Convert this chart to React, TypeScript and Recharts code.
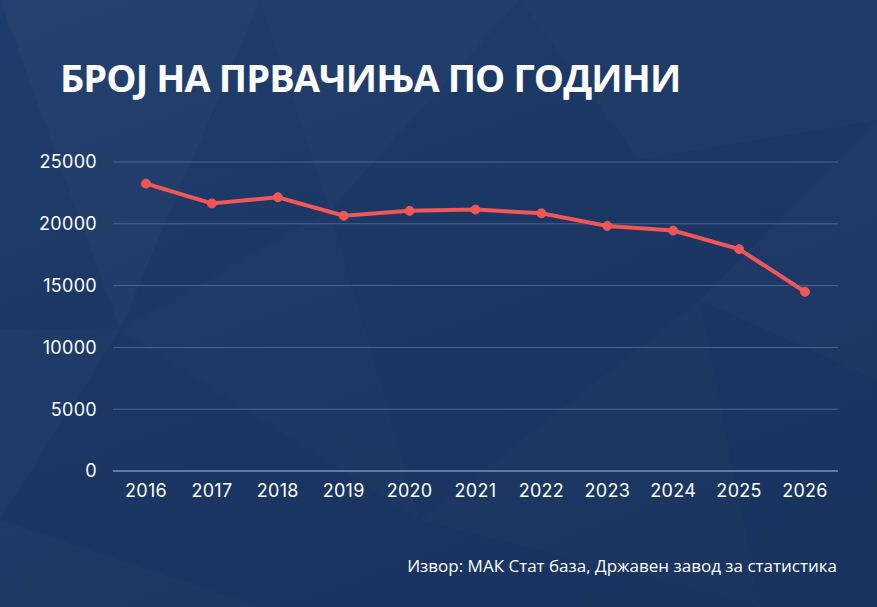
import React from "react";
import { LineChart, Line, XAxis, YAxis, CartesianGrid } from "recharts";

const years = ["2016", "2017", "2018", "2019", "2020", "2021", "2022", "2023", "2024", "2025", "2026"];
const firstGraders = [23250, 21650, 22150, 20650, 21050, 21150, 20850, 19830, 19450, 17950, 14500];
const yTicks = [0, 5000, 10000, 15000, 20000, 25000];

const data = years.map((year, i) => ({ year, value: firstGraders[i] }));

const W = 877;
const H = 607;

// decorative facets in the background
const facets = [
  "0,0 260,0 120,330",
  "260,0 520,0 330,210",
  "0,330 120,330 0,520",
  "520,0 877,0 877,120 640,160",
  "877,120 877,380 700,300",
  "120,330 330,210 420,520",
  "0,520 260,607 0,607",
  "420,520 700,300 760,607",
];
const facetOpacity = [0.025, 0.018, 0.015, 0.015, 0.02, 0.012, 0.015, 0.01];

const tickStyle = { fill: "#ffffff", fontSize: 18, fontFamily: "Inter, sans-serif", letterSpacing: 0.3 };

export default function App() {
  return (
    <div
      style={{
        position: "absolute",
        left: 0,
        top: 0,
        width: W,
        height: H,
        overflow: "hidden",
        background: "linear-gradient(160deg, #1f3d6c 0%, #1b3764 45%, #19335f 100%)",
      }}
    >
      <svg width={W} height={H} style={{ position: "absolute", left: 0, top: 0 }}>
        {facets.map((p, i) => (
          <polygon key={i} points={p} fill="#ffffff" fillOpacity={facetOpacity[i]} />
        ))}
      </svg>

      <div
        style={{
          position: "absolute",
          left: 60,
          top: 52,
          color: "#ffffff",
          fontFamily: "'Open Sans', sans-serif",
          fontWeight: 700,
          fontSize: 38,
          letterSpacing: -0.9,
          lineHeight: "50px",
          whiteSpace: "nowrap",
        }}
      >
        БРОЈ НА ПРВАЧИЊА ПО ГОДИНИ
      </div>

      <div style={{ position: "absolute", left: 0, top: 0 }}>
        <LineChart
          width={W}
          height={H}
          data={data}
          margin={{ top: 162, right: 39, bottom: 106, left: 0 }}
        >
          <CartesianGrid vertical={false} stroke="#4a6691" strokeWidth={1} />
          <XAxis
            dataKey="year"
            height={30}
            padding={{ left: 33, right: 33 }}
            axisLine={{ stroke: "#7389b0", strokeWidth: 1.5 }}
            tickLine={false}
            tickSize={6}
            tickMargin={7}
            tick={tickStyle}
            interval={0}
          />
          <YAxis
            width={113}
            domain={[0, 25000]}
            ticks={yTicks}
            axisLine={false}
            tickLine={false}
            tickSize={6}
            tickMargin={10}
            tick={tickStyle}
          />
          <Line
            type="linear"
            dataKey="value"
            stroke="#f25757"
            strokeWidth={4}
            dot={{ r: 4.5, fill: "#f25757", stroke: "#f25757", strokeWidth: 1 }}
            isAnimationActive={false}
          />
        </LineChart>
      </div>

      <div
        style={{
          position: "absolute",
          right: 40,
          top: 554,
          color: "#ffffff",
          fontFamily: "'Open Sans', sans-serif",
          fontWeight: 500,
          fontSize: 17,
          whiteSpace: "nowrap",
        }}
      >
        Извор: МАК Стат база, Државен завод за статистика
      </div>
    </div>
  );
}
